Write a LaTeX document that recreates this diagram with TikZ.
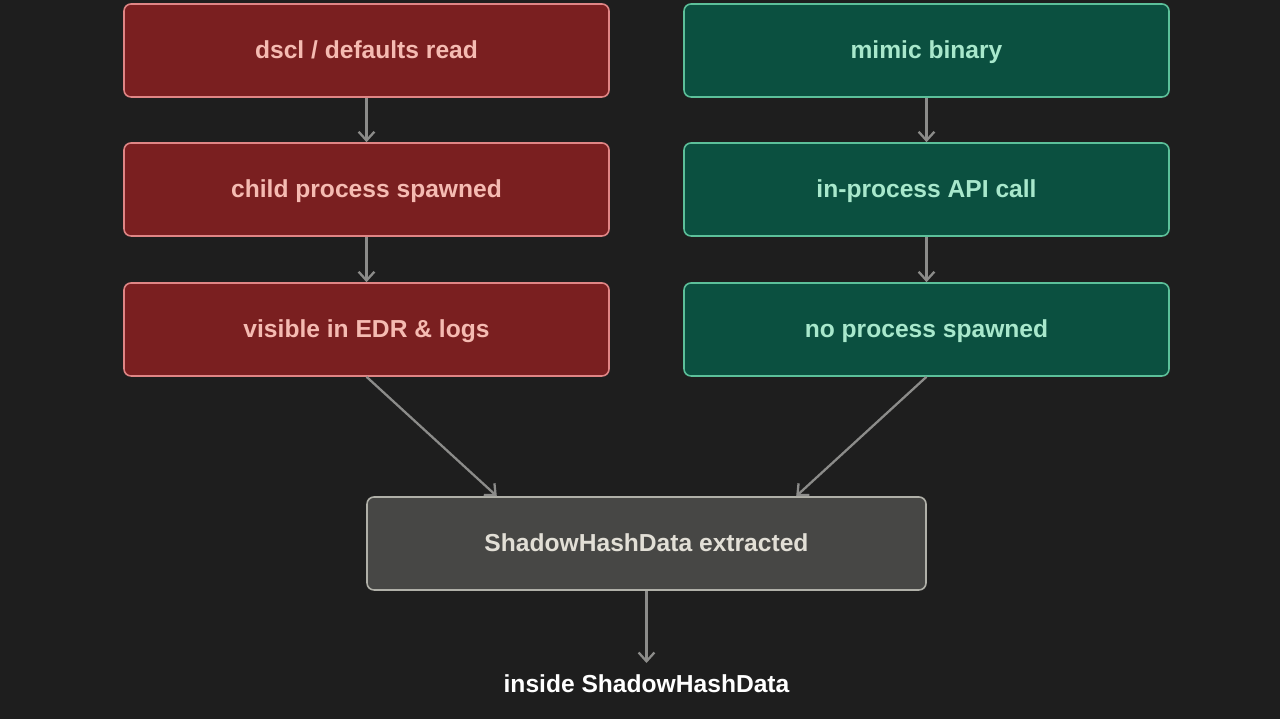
\documentclass[tikz,border=0pt]{standalone}
\usepackage{fontspec}
\setmainfont{Liberation Sans}
\usetikzlibrary{calc,arrows.meta}

\definecolor{bgdark}{HTML}{1E1E1E}
\definecolor{redfill}{HTML}{7A1F20}
\definecolor{redline}{HTML}{E08585}
\definecolor{redtext}{HTML}{F5BBB2}
\definecolor{grnfill}{HTML}{0B5040}
\definecolor{grnline}{HTML}{5CC09A}
\definecolor{grntext}{HTML}{A8E8CC}
\definecolor{gryfill}{HTML}{474745}
\definecolor{gryline}{HTML}{B0B0A8}
\definecolor{grytext}{HTML}{E2DFD6}
\definecolor{arrowgray}{HTML}{8C8C8A}

\tikzset{
	box/.style={rounded corners=4pt, line width=0.9pt, minimum width=9.7cm, minimum height=1.86cm,
		text height=1em, text depth=0.1em, font=\fontsize{14}{16}\selectfont\bfseries},
	redbox/.style={box, draw=redline, fill=redfill, text=redtext},
	grnbox/.style={box, draw=grnline, fill=grnfill, text=grntext},
	grybox/.style={box, draw=gryline, fill=gryfill, text=grytext, minimum width=11.18cm},
	flow/.style={draw=arrowgray, line width=1.3pt, -{Straight Barb[length=5pt,width=9pt]}}
}

\begin{document}
\begin{tikzpicture}
			%%%%% START %%%%%
			
			\fill[bgdark] (0, 0) rectangle (25.6, 14.38);
			\useasboundingbox (0, 0) rectangle (25.6, 14.38);
			
			% left column
			\node[redbox] (dscl) at (7.33, 13.37) {dscl / defaults read};
			\node[redbox] (child) at (7.33, 10.59) {child process spawned};
			\node[redbox] (visible) at (7.33, 7.79) {visible in EDR \& logs};
			
			% right column
			\node[grnbox] (mimic) at (18.53, 13.37) {mimic binary};
			\node[grnbox] (inproc) at (18.53, 10.59) {in-process API call};
			\node[grnbox] (noproc) at (18.53, 7.79) {no process spawned};
			
			% result
			\node[grybox] (extract) at (12.93, 3.51) {ShadowHashData extracted};
			\node[text=white, font=\fontsize{14}{16}\selectfont\bfseries, text height=0.55em, text depth=0.3em,
				inner xsep=2pt, inner ysep=11pt, anchor=north] (inside) at (12.93, 1.12) {inside ShadowHashData};
			
			\draw[flow] (dscl) -- (child);
			\draw[flow] (child) -- (visible);
			\draw[flow] (mimic) -- (inproc);
			\draw[flow] (inproc) -- (noproc);
			
			\draw[flow] (visible.south) -- ($(extract.north west)!0.233!(extract.north east)$);
			\draw[flow] (noproc.south) -- ($(extract.north west)!0.767!(extract.north east)$);
			\draw[flow] (extract) -- (inside);
			
			%%%%% END %%%%%
\end{tikzpicture}
\end{document}
